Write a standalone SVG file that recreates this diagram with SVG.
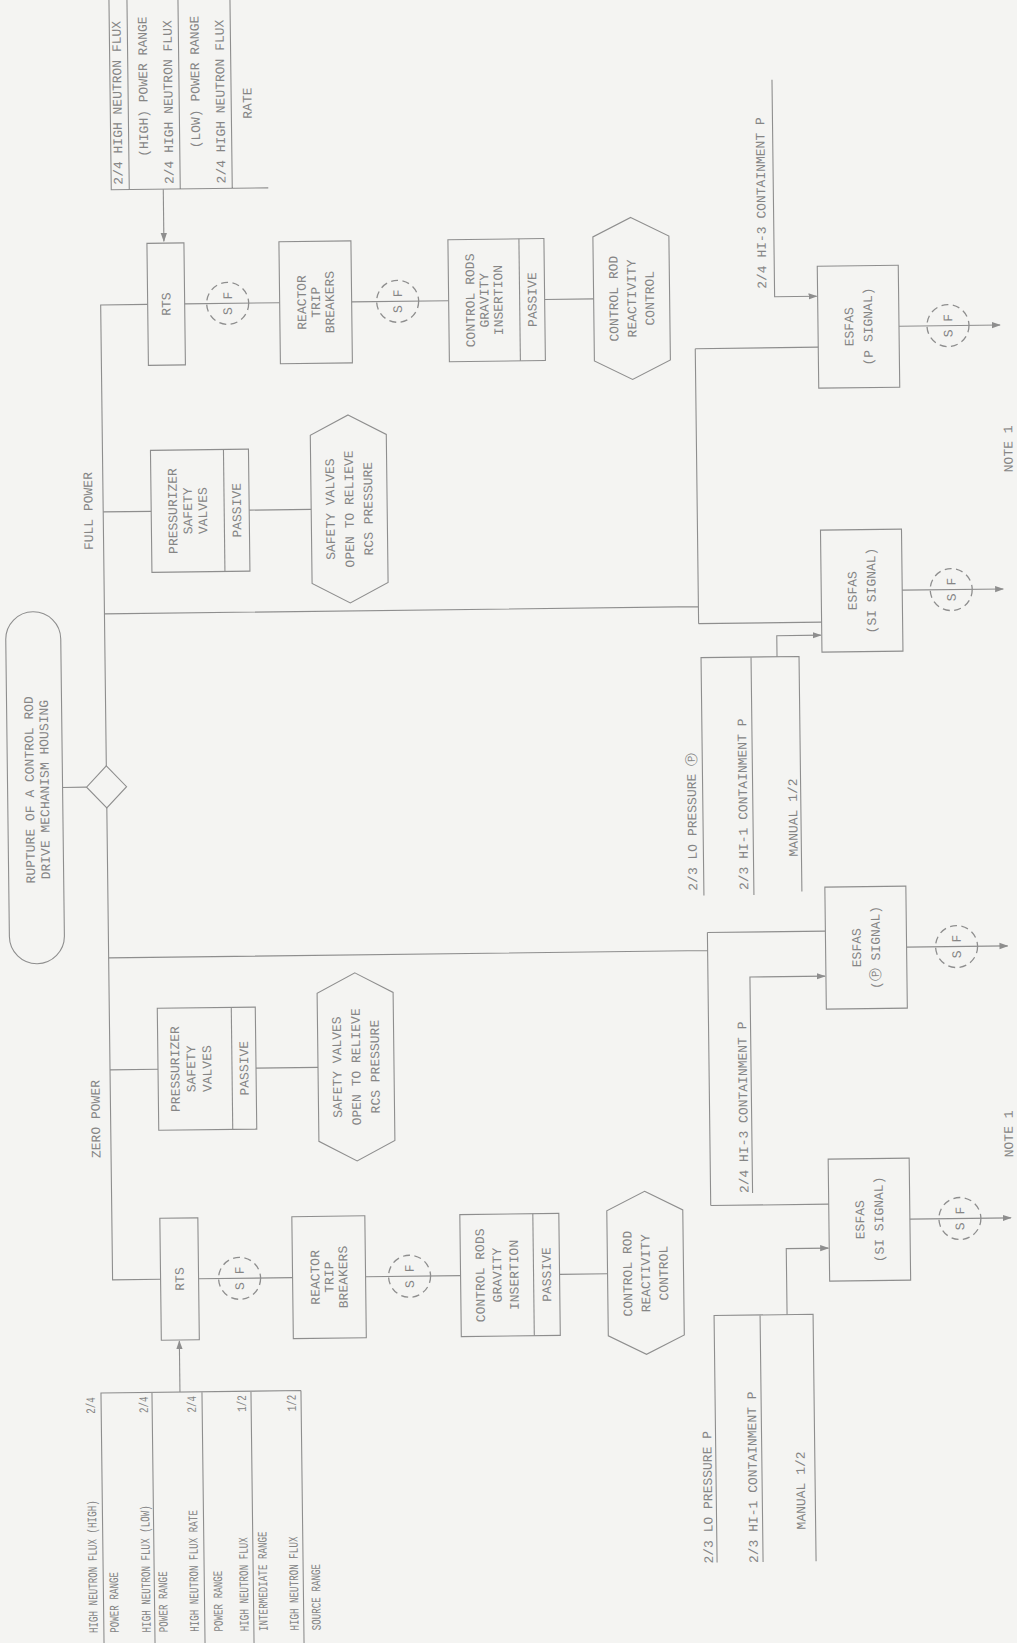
<svg xmlns="http://www.w3.org/2000/svg" width="1017" height="1643" viewBox="0 0 1017 1643">
<defs>
<style>
.l{fill:none;stroke:#8e8e8e;stroke-width:1.1}
.b{fill:none;stroke:#8e8e8e;stroke-width:1.1}
.d{fill:none;stroke:#8e8e8e;stroke-width:1.3;stroke-dasharray:7 4.5}
.t{font-family:"Liberation Mono","DejaVu Sans Mono","DejaVu Sans",monospace;font-size:13px;fill:#858585;text-anchor:middle}
.s{font-family:"Liberation Mono","DejaVu Sans Mono","DejaVu Sans",monospace;font-size:13px;fill:#858585;text-anchor:start}
.e{font-family:"Liberation Mono","DejaVu Sans Mono","DejaVu Sans",monospace;font-size:13px;fill:#858585;text-anchor:end}
</style>
<marker id="a" viewBox="0 0 10 10" refX="9" refY="5" markerWidth="9" markerHeight="9" markerUnits="userSpaceOnUse" orient="auto"><path d="M0,1.5L10,5L0,8.5z" fill="#8e8e8e"/></marker>
</defs>
<rect width="1017" height="1643" fill="#f4f4f2"/>
<g transform="rotate(-0.7 508 820)">
<g id="connectors">
<path class="l" d="M154,300H107V761"/>
<path class="l" d="M107,803V1275H155"/>
<path class="l" d="M63,782H87"/>
<path class="l" d="M107,507H155M253,507H315"/>
<path class="l" d="M107,1065H155M253,1065H315"/>
<path class="l" d="M191,300H286M358,300H455M551,300H600"/>
<path class="l" d="M193,1275H287M360,1275H455M554,1275H602"/>
<path class="l" d="M107,609H701M701,351V626M701,351H824M701,626H824"/>
<path class="l" d="M107,953H706M706,935V1208M706,935H824M706,1208H824"/>
<path class="l" d="M781,83V300H823" marker-end="url(#a)"/>
<path class="l" d="M748,1196V980H823" marker-end="url(#a)"/>
<path class="l" d="M779,660V639H823" marker-end="url(#a)"/>
<path class="l" d="M781,1318V1252H823" marker-end="url(#a)"/>
<path class="l" d="M905,331H1006" marker-end="url(#a)"/>
<path class="l" d="M905,595H1006" marker-end="url(#a)"/>
<path class="l" d="M905,952H1006" marker-end="url(#a)"/>
<path class="l" d="M905,1224H1006" marker-end="url(#a)"/>
<path class="l" d="M173,1388V1337" marker-end="url(#a)"/>
<path class="l" d="M171,185V237" marker-end="url(#a)"/>
</g>

<g id="event">
<rect class="b" x="8" y="606" width="55" height="352" rx="27.5"/>
<text class="t" transform="translate(34.3,784) rotate(-90)">RUPTURE OF A CONTROL ROD</text>
<text class="t" transform="translate(49.3,784) rotate(-90)">DRIVE MECHANISM HOUSING</text>
</g>
<g id="branch">
<path class="b" d="M107,761L127,782L107,803L87,782Z"/>
<text class="t" transform="translate(96.3,506) rotate(-90)">FULL POWER</text>
<text class="t" transform="translate(96.3,1114) rotate(-90)">ZERO POWER</text>
</g>

<!-- full power branch -->
<g id="fp-inputs">
<path class="l" d="M119,-10V185H276M137,-10V185M188,-10V185M240,-10V185"/>
<text class="s" transform="translate(130.3,180) rotate(-90)">2/4 HIGH NEUTRON FLUX</text>
<text class="e" transform="translate(156.3,12) rotate(-90)">(HIGH) POWER RANGE</text>
<text class="s" transform="translate(181.3,180) rotate(-90)">2/4 HIGH NEUTRON FLUX</text>
<text class="e" transform="translate(208.3,12) rotate(-90)">(LOW) POWER RANGE</text>
<text class="s" transform="translate(233.3,180) rotate(-90)">2/4 HIGH NEUTRON FLUX</text>
<text class="t" transform="translate(260.3,100) rotate(-90)">RATE</text>
</g>
<g id="fp-rts">
<rect class="b" x="154" y="239" width="37" height="122"/>
<text class="t" transform="translate(176.8,300) rotate(-90)">RTS</text>
</g>
<g id="fp-sf1">
<circle class="d" cx="234" cy="300" r="21"/>
<text class="t" transform="translate(238.3,300) rotate(-90)">S F</text>
</g>
<g id="fp-rtb">
<rect class="b" x="286" y="239" width="72" height="122"/>
<text class="t" transform="translate(312.3,300) rotate(-90)">REACTOR</text>
<text class="t" transform="translate(326.3,300) rotate(-90)">TRIP</text>
<text class="t" transform="translate(340.3,300) rotate(-90)">BREAKERS</text>
</g>
<g id="fp-sf2">
<circle class="d" cx="404" cy="300" r="21"/>
<text class="t" transform="translate(408.3,300) rotate(-90)">S F</text>
</g>
<g id="fp-rods">
<rect class="b" x="455" y="239" width="96" height="122"/>
<path class="b" d="M526,239V361"/>
<text class="t" transform="translate(480.8,300) rotate(-90)">CONTROL RODS</text>
<text class="t" transform="translate(494.8,300) rotate(-90)">GRAVITY</text>
<text class="t" transform="translate(508.8,300) rotate(-90)">INSERTION</text>
<text class="t" transform="translate(542.8,300) rotate(-90)">PASSIVE</text>
</g>
<g id="fp-reactivity">
<path class="b" d="M638,219L676,238V362L638,381L600,362V238Z"/>
<text class="t" transform="translate(624.3,300) rotate(-90)">CONTROL ROD</text>
<text class="t" transform="translate(642.3,300) rotate(-90)">REACTIVITY</text>
<text class="t" transform="translate(660.3,300) rotate(-90)">CONTROL</text>
</g>
<g id="fp-pzr">
<rect class="b" x="155" y="446" width="98" height="122"/>
<path class="b" d="M228,446V568"/>
<text class="t" transform="translate(180.8,507) rotate(-90)">PRESSURIZER</text>
<text class="t" transform="translate(195.8,507) rotate(-90)">SAFETY</text>
<text class="t" transform="translate(210.8,507) rotate(-90)">VALVES</text>
<text class="t" transform="translate(244.8,507) rotate(-90)">PASSIVE</text>
</g>
<g id="fp-relief">
<path class="b" d="M353,413L391,433V581L353,601L315,581V433Z"/>
<text class="t" transform="translate(338.3,507) rotate(-90)">SAFETY VALVES</text>
<text class="t" transform="translate(357.3,507) rotate(-90)">OPEN TO RELIEVE</text>
<text class="t" transform="translate(376.3,507) rotate(-90)">RCS PRESSURE</text>
</g>

<!-- zero power branch -->
<g id="zp-inputs">
<path class="l" d="M94,1650V1388H294M145,1388V1650M195,1388V1650M244,1388V1650M294,1388V1650"/>
<g font-family="Liberation Mono,DejaVu Sans Mono,monospace" font-size="13" fill="#858585">
<text transform="translate(87.8,1628) rotate(-90) scale(0.71,1)">HIGH NEUTRON FLUX (HIGH)</text>
<text transform="translate(87.8,1392) rotate(-90) scale(0.71,1)" text-anchor="end">2/4</text>
<text transform="translate(108.8,1628) rotate(-90) scale(0.71,1)">POWER RANGE</text>
<text transform="translate(140.8,1628) rotate(-90) scale(0.71,1)">HIGH NEUTRON FLUX (LOW)</text>
<text transform="translate(140.8,1392) rotate(-90) scale(0.71,1)" text-anchor="end">2/4</text>
<text transform="translate(157.8,1628) rotate(-90) scale(0.71,1)">POWER RANGE</text>
<text transform="translate(188.8,1628) rotate(-90) scale(0.71,1)">HIGH NEUTRON FLUX RATE</text>
<text transform="translate(188.8,1392) rotate(-90) scale(0.71,1)" text-anchor="end">2/4</text>
<text transform="translate(212.8,1628) rotate(-90) scale(0.71,1)">POWER RANGE</text>
<text transform="translate(238.8,1628) rotate(-90) scale(0.71,1)">HIGH NEUTRON FLUX</text>
<text transform="translate(238.8,1392) rotate(-90) scale(0.71,1)" text-anchor="end">1/2</text>
<text transform="translate(257.8,1628) rotate(-90) scale(0.71,1)">INTERMEDIATE RANGE</text>
<text transform="translate(288.8,1628) rotate(-90) scale(0.71,1)">HIGH NEUTRON FLUX</text>
<text transform="translate(288.8,1392) rotate(-90) scale(0.71,1)" text-anchor="end">1/2</text>
<text transform="translate(310.8,1628) rotate(-90) scale(0.71,1)">SOURCE RANGE</text>
</g>
</g>
<g id="zp-rts">
<rect class="b" x="155" y="1214" width="38" height="122"/>
<text class="t" transform="translate(178.3,1275) rotate(-90)">RTS</text>
</g>
<g id="zp-sf1">
<circle class="d" cx="234" cy="1275" r="21"/>
<text class="t" transform="translate(238.3,1275) rotate(-90)">S F</text>
</g>
<g id="zp-rtb">
<rect class="b" x="287" y="1214" width="73" height="122"/>
<text class="t" transform="translate(313.8,1275) rotate(-90)">REACTOR</text>
<text class="t" transform="translate(327.8,1275) rotate(-90)">TRIP</text>
<text class="t" transform="translate(341.8,1275) rotate(-90)">BREAKERS</text>
</g>
<g id="zp-sf2">
<circle class="d" cx="404" cy="1275" r="21"/>
<text class="t" transform="translate(408.3,1275) rotate(-90)">S F</text>
</g>
<g id="zp-rods">
<rect class="b" x="455" y="1214" width="99" height="122"/>
<path class="b" d="M528,1214V1336"/>
<text class="t" transform="translate(478.8,1275) rotate(-90)">CONTROL RODS</text>
<text class="t" transform="translate(495.8,1275) rotate(-90)">GRAVITY</text>
<text class="t" transform="translate(512.8,1275) rotate(-90)">INSERTION</text>
<text class="t" transform="translate(545.3,1275) rotate(-90)">PASSIVE</text>
</g>
<g id="zp-reactivity">
<path class="b" d="M640,1193L678,1212V1337L640,1356L602,1337V1212Z"/>
<text class="t" transform="translate(626.3,1275) rotate(-90)">CONTROL ROD</text>
<text class="t" transform="translate(644.3,1275) rotate(-90)">REACTIVITY</text>
<text class="t" transform="translate(662.3,1275) rotate(-90)">CONTROL</text>
</g>
<g id="zp-pzr">
<rect class="b" x="155" y="1004" width="98" height="122"/>
<path class="b" d="M229,1004V1126"/>
<text class="t" transform="translate(176.3,1065) rotate(-90)">PRESSURIZER</text>
<text class="t" transform="translate(192.3,1065) rotate(-90)">SAFETY</text>
<text class="t" transform="translate(208.3,1065) rotate(-90)">VALVES</text>
<text class="t" transform="translate(245.3,1065) rotate(-90)">PASSIVE</text>
</g>
<g id="zp-relief">
<path class="b" d="M353,971L391,991V1139L353,1159L315,1139V991Z"/>
<text class="t" transform="translate(338.3,1065) rotate(-90)">SAFETY VALVES</text>
<text class="t" transform="translate(357.3,1065) rotate(-90)">OPEN TO RELIEVE</text>
<text class="t" transform="translate(376.3,1065) rotate(-90)">RCS PRESSURE</text>
</g>

<!-- ESFAS -->
<g id="in-hi3-top">
<text class="s" transform="translate(772.8,292) rotate(-90)">2/4 HI-3 CONTAINMENT P</text>
</g>
<g id="esfas-p-top">
<rect class="b" x="824" y="270" width="81" height="122"/>
<text class="t" transform="translate(859.3,331) rotate(-90)">ESFAS</text>
<text class="t" transform="translate(878.3,331) rotate(-90)">(P SIGNAL)</text>
</g>
<g id="sf-p-top">
<circle class="d" cx="954" cy="331" r="21"/>
<text class="t" transform="translate(958.3,331) rotate(-90)">S F</text>
</g>
<g id="in-lo-top">
<path class="l" d="M703,898V660H801V895M753,660V898"/>
<text class="s" transform="translate(696.3,893) rotate(-90)">2/3 LO PRESSURE Ⓟ</text>
<text class="s" transform="translate(747.3,893) rotate(-90)">2/3 HI-1 CONTAINMENT P</text>
<text class="s" transform="translate(797.3,860) rotate(-90)">MANUAL 1/2</text>
</g>
<g id="esfas-si-top">
<rect class="b" x="824" y="534" width="81" height="122"/>
<text class="t" transform="translate(859.3,595) rotate(-90)">ESFAS</text>
<text class="t" transform="translate(878.3,595) rotate(-90)">(SI SIGNAL)</text>
</g>
<g id="sf-si-top">
<circle class="d" cx="954" cy="595" r="21"/>
<text class="t" transform="translate(958.3,595) rotate(-90)">S F</text>
</g>
<text class="t" transform="translate(1017,455) rotate(-90)">NOTE 1</text>

<g id="in-hi3-mid">
<text class="s" transform="translate(743.8,1196) rotate(-90)">2/4 HI-3 CONTAINMENT P</text>
</g>
<g id="esfas-p-mid">
<rect class="b" x="824" y="891" width="81" height="122"/>
<text class="t" transform="translate(859.3,952) rotate(-90)">ESFAS</text>
<text class="t" transform="translate(878.3,952) rotate(-90)">(Ⓟ SIGNAL)</text>
</g>
<g id="sf-p-mid">
<circle class="d" cx="955" cy="952" r="21"/>
<text class="t" transform="translate(959.3,952) rotate(-90)">S F</text>
</g>
<g id="in-lo-bot">
<path class="l" d="M708,1565V1318H807V1565M754,1318V1565"/>
<text class="s" transform="translate(703.8,1566) rotate(-90)">2/3 LO PRESSURE P</text>
<text class="s" transform="translate(748.8,1566) rotate(-90)">2/3 HI-1 CONTAINMENT P</text>
<text class="s" transform="translate(796.8,1533) rotate(-90)">MANUAL 1/2</text>
</g>
<g id="esfas-si-bot">
<rect class="b" x="824" y="1163" width="81" height="122"/>
<text class="t" transform="translate(859.3,1224) rotate(-90)">ESFAS</text>
<text class="t" transform="translate(878.3,1224) rotate(-90)">(SI SIGNAL)</text>
</g>
<g id="sf-si-bot">
<circle class="d" cx="955" cy="1224" r="21"/>
<text class="t" transform="translate(959.3,1224) rotate(-90)">S F</text>
</g>
<text class="t" transform="translate(1009,1140) rotate(-90)">NOTE 1</text>
</g>
</svg>
